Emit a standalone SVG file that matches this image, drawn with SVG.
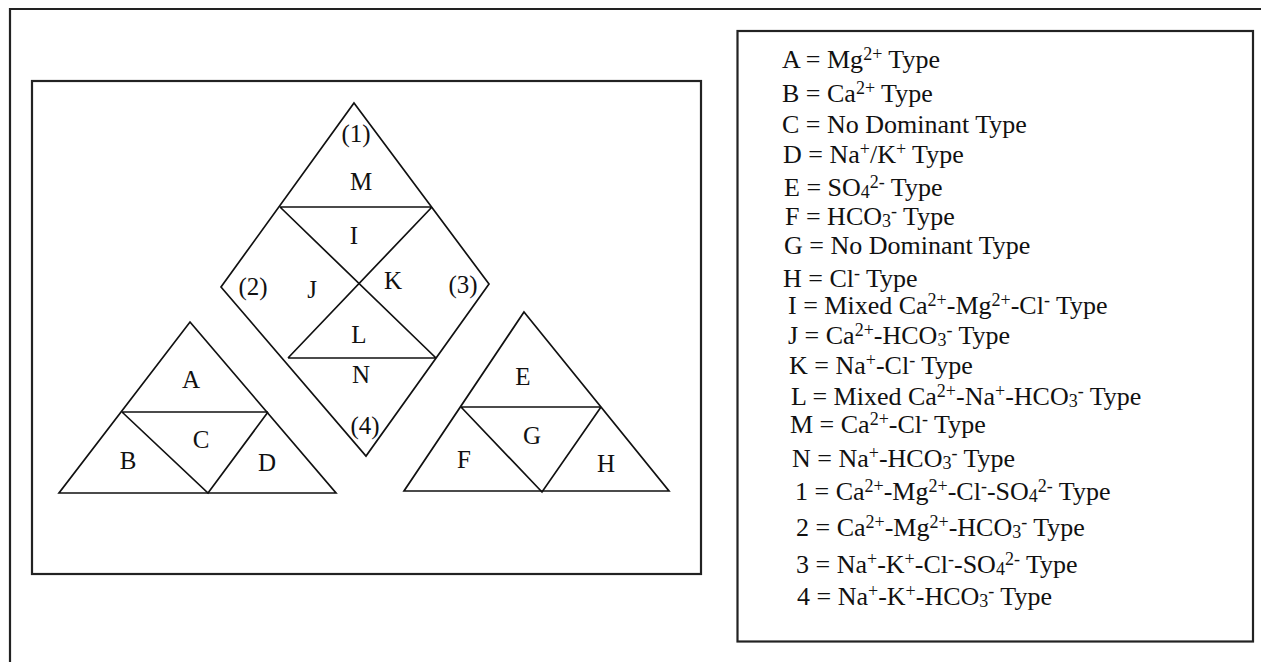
<svg xmlns="http://www.w3.org/2000/svg" width="1261" height="662" viewBox="0 0 1261 662">
<style>
.frame{fill:none;stroke:#222;stroke-width:2.2}
.ln{fill:none;stroke:#111;stroke-width:1.7;stroke-linejoin:miter}
.lb{font-family:"Liberation Serif","Times New Roman",serif;font-size:25px;fill:#111;text-anchor:middle}
.lg{font-family:"Liberation Serif","Times New Roman",serif;font-size:26px;fill:#111}
.sup{font-size:18px;baseline-shift:8px}
.sub{font-size:18px;baseline-shift:-2px}
</style>
<rect width="1261" height="662" fill="#fff"/>
<g id="outer-frame">
<path class="frame" d="M10,662 V9 H1261"/>
</g>
<g id="plot-frame">
<rect class="frame" x="32" y="81" width="669" height="493"/>
</g>
<g id="diamond">
<path class="ln" d="M354,103 L489,284 L366,456 L221,287 Z"/>
<path class="ln" d="M280,207 H432 M288,358 H436 M280,207 L436,358 M432,207 L288,358"/>
<text class="lb" x="356" y="142">(1)</text>
<text class="lb" x="361" y="190">M</text>
<text class="lb" x="354" y="244">I</text>
<text class="lb" x="253" y="295">(2)</text>
<text class="lb" x="312" y="298">J</text>
<text class="lb" x="393" y="289">K</text>
<text class="lb" x="463" y="293">(3)</text>
<text class="lb" x="359" y="343">L</text>
<text class="lb" x="361" y="383">N</text>
<text class="lb" x="365" y="434">(4)</text>
</g>
<g id="cation-triangle">
<path class="ln" d="M190,322 L336,493 L59,493 Z"/>
<path class="ln" d="M122,412 H268 M122,412 L208,493 L268,412"/>
<text class="lb" x="191" y="388">A</text>
<text class="lb" x="201" y="448">C</text>
<text class="lb" x="128" y="469">B</text>
<text class="lb" x="267" y="471">D</text>
</g>
<g id="anion-triangle">
<path class="ln" d="M524,312 L669,491 L404,491 Z"/>
<path class="ln" d="M461,407 H601 M461,407 L542,492 L601,407"/>
<text class="lb" x="523" y="385">E</text>
<text class="lb" x="532" y="444">G</text>
<text class="lb" x="464" y="468">F</text>
<text class="lb" x="606" y="472">H</text>
</g>
<g id="legend">
<rect class="frame" x="737.5" y="31" width="515.5" height="610.5"/>
<text class="lg" x="782" y="68">A = Mg<tspan class="sup">2+</tspan> Type</text>
<text class="lg" x="782" y="102">B = Ca<tspan class="sup">2+</tspan> Type</text>
<text class="lg" x="782" y="133">C = No Dominant Type</text>
<text class="lg" x="783" y="163">D = Na<tspan class="sup">+</tspan>/K<tspan class="sup">+</tspan> Type</text>
<text class="lg" x="784" y="196">E = SO<tspan class="sub">4</tspan><tspan class="sup">2-</tspan> Type</text>
<text class="lg" x="785" y="225">F = HCO<tspan class="sub">3</tspan><tspan class="sup">-</tspan> Type</text>
<text class="lg" x="784" y="254">G = No Dominant Type</text>
<text class="lg" x="783" y="287">H = Cl<tspan class="sup">-</tspan> Type</text>
<text class="lg" x="788" y="314">I = Mixed Ca<tspan class="sup">2+</tspan>-Mg<tspan class="sup">2+</tspan>-Cl<tspan class="sup">-</tspan> Type</text>
<text class="lg" x="788" y="344">J = Ca<tspan class="sup">2+</tspan>-HCO<tspan class="sub">3</tspan><tspan class="sup">-</tspan> Type</text>
<text class="lg" x="789" y="374">K = Na<tspan class="sup">+</tspan>-Cl<tspan class="sup">-</tspan> Type</text>
<text class="lg" x="791" y="405">L = Mixed Ca<tspan class="sup">2+</tspan>-Na<tspan class="sup">+</tspan>-HCO<tspan class="sub">3</tspan><tspan class="sup">-</tspan> Type</text>
<text class="lg" x="790" y="433">M = Ca<tspan class="sup">2+</tspan>-Cl<tspan class="sup">-</tspan> Type</text>
<text class="lg" x="792" y="467">N = Na<tspan class="sup">+</tspan>-HCO<tspan class="sub">3</tspan><tspan class="sup">-</tspan> Type</text>
<text class="lg" x="795" y="500">1 = Ca<tspan class="sup">2+</tspan>-Mg<tspan class="sup">2+</tspan>-Cl<tspan class="sup">-</tspan>-SO<tspan class="sub">4</tspan><tspan class="sup">2-</tspan> Type</text>
<text class="lg" x="796" y="536">2 = Ca<tspan class="sup">2+</tspan>-Mg<tspan class="sup">2+</tspan>-HCO<tspan class="sub">3</tspan><tspan class="sup">-</tspan> Type</text>
<text class="lg" x="796" y="573">3 = Na<tspan class="sup">+</tspan>-K<tspan class="sup">+</tspan>-Cl<tspan class="sup">-</tspan>-SO<tspan class="sub">4</tspan><tspan class="sup">2-</tspan> Type</text>
<text class="lg" x="797" y="605">4 = Na<tspan class="sup">+</tspan>-K<tspan class="sup">+</tspan>-HCO<tspan class="sub">3</tspan><tspan class="sup">-</tspan> Type</text>
</g>
</svg>
